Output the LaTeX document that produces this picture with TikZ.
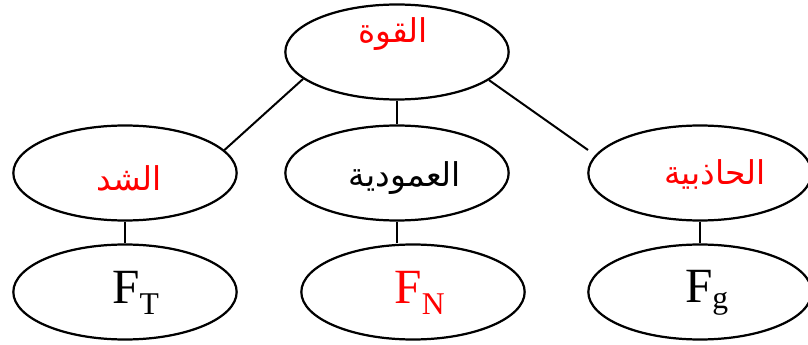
\documentclass[tikz,border=0pt]{standalone}
\usepackage{fontspec}
\setmainfont{Liberation Serif}
\newfontfamily\arabicfont[Script=Arabic]{DejaVu Sans}
\TeXXeTstate=1
\usetikzlibrary{shapes.geometric}
\definecolor{redtxt}{RGB}{255,0,0}
\tikzset{
  oval/.style={ellipse, draw=black, line width=1.9pt, minimum width=6.7cm, minimum height=2.85cm, inner sep=0pt},
  link/.style={draw=black, line width=1.7pt},
  artxt/.style={font=\arabicfont\fontsize{28}{32}\selectfont},
  ftxt/.style={font=\fontsize{42}{48}\selectfont}
}
\newcommand{\subsz}[1]{\textsubscript{\fontsize{27}{30}\selectfont #1}}
\begin{document}
\begin{tikzpicture}[x=0.03cm, y=-0.03cm]
\useasboundingbox (0,0) rectangle (808,345);
\node[oval] (top) at (397,52) {};
\node[artxt, text=redtxt] (topt) at (393,34) {\beginR القوة\endR};
\node[oval] (left) at (125,173) {};
\node[artxt, text=redtxt] (leftt) at (129,178) {\beginR الشد\endR};
\node[oval] (mid) at (397,173) {};
\node[artxt, text=black] (midt) at (405,178) {\beginR العمودية\endR};
\node[oval] (right) at (700,173) {};
\node[artxt, text=redtxt] (rightt) at (715,174) {\beginR الحاذبية\endR};
\node[oval] (bl) at (125,292) {};
\node[ftxt] (blt) at (136,293) {F\subsz{T}};
\node[oval] (bm) at (413,292) {};
\node[ftxt, text=redtxt] (bmt) at (420,293) {F\subsz{N}};
\node[oval] (br) at (700,292) {};
\node[ftxt] (brt) at (707,293) {F\subsz{g}};
\coordinate (rend) at (588,150);
\draw[link] (top.196) -- (left.13);
\draw[link] (top.south) -- (mid.north);
\draw[link] (top.343) -- (rend);
\draw[link] (left.south) -- (bl.north);
\draw[link] (mid.south) -- (mid.south |- bm.north);
\draw[link] (right.south) -- (br.north);
\end{tikzpicture}
\end{document}
